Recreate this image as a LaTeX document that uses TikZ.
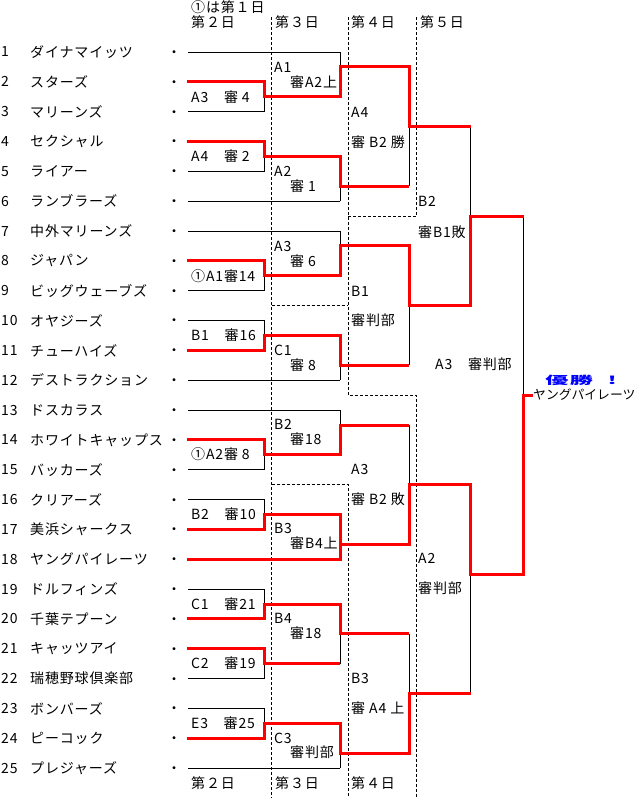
\documentclass[tikz,border=0pt]{standalone}
\usepackage{fontspec}
\setmainfont{Noto Sans CJK JP}[LetterSpace=6]
\definecolor{wred}{RGB}{255,0,0}
\definecolor{wblue}{RGB}{0,0,255}
\newcommand\rowY[1]{{52+29.84*(#1-1)}}
\def\XA{188}\def\XB{264.5}\def\XC{340.3}\def\XD{409}\def\XE{470.7}\def\XF{523.7}\def\XG{533}
\def\DA{271.7}\def\DB{348.3}\def\DC{416.7}
\begin{document}
\begin{tikzpicture}[x=1pt,y=-1pt,
  every node/.style={inner sep=0pt,font=\fontsize{14}{16}\selectfont},
  lbl/.style={anchor=west},
  bl/.style={line width=1pt,black},
  rd/.style={line width=3pt,wred},
  dsh/.style={line width=0.8pt,black,dash pattern=on 3pt off 2pt}]
\useasboundingbox[fill=white] (0,0) rectangle (637,798);

% dashed day separators
\draw[dsh] (\DA,17) -- (\DA,798);
\draw[dsh] (\DB,17) -- (\DB,\rowY{12.5}) -- (\DC,\rowY{12.5}) -- (\DC,798);
\draw[dsh] (\DC,17) -- (\DC,\rowY{6.5}) -- (\DB,\rowY{6.5});
\draw[dsh] (\DA,\rowY{9.5}) -- (\DB,\rowY{9.5});
\draw[dsh] (\DA,\rowY{15.5}) -- (\DB,\rowY{15.5}) -- (\DB,798);

% headers
\node[lbl] (h1) at (191,7) {①は第１日};
\node[lbl] (h2) at (191,22) {第２日};
\node[lbl] (h3) at (275,22) {第３日};
\node[lbl] (h4) at (351,22) {第４日};
\node[lbl] (h5) at (420,22) {第５日};
\node[lbl] (f2) at (191,783) {第２日};
\node[lbl] (f3) at (275,783) {第３日};
\node[lbl] (f4) at (351,783) {第４日};

% teams
\foreach \i/\nm in {1/ダイナマイッツ,2/スターズ,3/マリーンズ,4/セクシャル,5/ライアー,
  6/ランブラーズ,7/中外マリーンズ,8/ジャパン,9/ビッグウェーブズ,10/オヤジーズ,
  11/チューハイズ,12/デストラクション,13/ドスカラス,14/ホワイトキャップス,15/バッカーズ,
  16/クリアーズ,17/美浜シャークス,18/ヤングパイレーツ,19/ドルフィンズ,20/千葉テプーン,
  21/キャッツアイ,22/瑞穂野球倶楽部,23/ボンバーズ,24/ピーコック,25/プレジャーズ}{
  \node[lbl] (num\i) at (1,\rowY{\i}) {\i};
  \node[lbl] (tm\i) at (30,\rowY{\i}) {\nm};
  \node[yshift=-2pt] (dot\i) at (174,\rowY{\i}) {・};
}

% black bracket lines
\foreach \r in {1,6,7,12,13,18,25} \draw[bl] (\XA,\rowY{\r}) -- (\XC,\rowY{\r});
\foreach \a/\b in {2/3,4/5,8/9,10/11,14/15,16/17,19/20,21/22,23/24}
  \draw[bl] (\XA,\rowY{\a}) -- (\XB,\rowY{\a}) -- (\XB,\rowY{\b}) -- (\XA,\rowY{\b});
\foreach \a/\b in {1/2.5,4.5/6,7/8.5,10.5/12,13/14.5,16.5/18,19.5/21.5,23.5/25}
  \draw[bl] (\XC,\rowY{\a}) -- (\XC,\rowY{\b});
\foreach \a/\b in {1.5/5.5,7.5/11.5,13.5/17.5,20.5/24.5}
  \draw[bl] (\XD,\rowY{\a}) -- (\XD,\rowY{\b});
\foreach \a/\b in {3.5/9.5,15.5/22.5}
  \draw[bl] (\XE,\rowY{\a}) -- (\XE,\rowY{\b});
\draw[bl] (\XF,\rowY{6.5}) -- (\XF,\rowY{18.5});

% red winner paths
\draw[rd] (187,\rowY{2}) -| (\XB,\rowY{2.5}) -- (\XC,\rowY{2.5}) |- (\XD,\rowY{1.5}) |- (\XE,\rowY{3.5});
\draw[rd] (187,\rowY{4}) -| (\XB,\rowY{4.5}) -- (\XC,\rowY{4.5}) |- (\XD,\rowY{5.5});
\draw[rd] (187,\rowY{8}) -| (\XB,\rowY{8.5}) -- (\XC,\rowY{8.5}) |- (\XD,\rowY{7.5}) |- (\XE,\rowY{9.5}) |- (\XF,\rowY{6.5});
\draw[rd] (187,\rowY{11}) -| (\XB,\rowY{10.5}) -- (\XC,\rowY{10.5}) |- (\XD,\rowY{11.5});
\draw[rd] (187,\rowY{14}) -| (\XB,\rowY{14.5}) -- (\XC,\rowY{14.5}) |- (\XD,\rowY{13.5});
\draw[rd] (187,\rowY{17}) -| (\XB,\rowY{16.5}) -- (\XC,\rowY{16.5}) -- (\XC,\rowY{17.5});
\draw[rd] (187,\rowY{18}) -- (\XC,\rowY{18}) |- (\XD,\rowY{17.5}) |- (\XE,\rowY{15.5}) |- (\XF,\rowY{18.5}) |- (\XG,\rowY{12.5});
\draw[rd] (187,\rowY{20}) -| (\XB,\rowY{19.5}) -- (\XC,\rowY{19.5}) |- (\XD,\rowY{20.5});
\draw[rd] (187,\rowY{21}) -| (\XB,\rowY{21.5}) -- (\XC,\rowY{21.5});
\draw[rd] (187,\rowY{24}) -| (\XB,\rowY{23.5}) -- (\XC,\rowY{23.5}) |- (\XD,\rowY{24.5}) |- (\XE,\rowY{22.5});

% day 2 labels
\node[lbl] (m1) at (191,97) {A3　審 4};
\node[lbl] (m2) at (191,156.5) {A4　審 2};
\node[lbl] (m3) at (191,276) {①A1審14};
\node[lbl] (m4) at (191,335.5) {B1　審16};
\node[lbl] (m5) at (191,454.5) {①A2審 8};
\node[lbl] (m6) at (191,514.5) {B2　審10};
\node[lbl] (m7) at (191,604) {C1　審21};
\node[lbl] (m8) at (191,663.5) {C2　審19};
\node[lbl] (m9) at (191,723.5) {E3　審25};

% day 3 labels
\node[lbl] (c1) at (274,67) {A1};   \node[lbl] (c1r) at (290,82) {審A2上};
\node[lbl] (c2) at (274,171) {A2};  \node[lbl] (c2r) at (290,186) {審 1};
\node[lbl] (c3) at (274,246) {A3};  \node[lbl] (c3r) at (290,261) {審 6};
\node[lbl] (c4) at (274,350) {C1};  \node[lbl] (c4r) at (290,365) {審 8};
\node[lbl] (c5) at (274,424) {B2};  \node[lbl] (c5r) at (290,439) {審18};
\node[lbl] (c6) at (274,528) {B3};  \node[lbl] (c6r) at (290,543) {審B4上};
\node[lbl] (c7) at (274,618) {B4};  \node[lbl] (c7r) at (290,633) {審18};
\node[lbl] (c8) at (274,738) {C3};  \node[lbl] (c8r) at (290,752) {審判部};

% day 4 labels
\node[lbl] (d1) at (351,112) {A4};  \node[lbl] (d1r) at (351,142) {審 B2 勝};
\node[lbl] (d2) at (351,291) {B1};  \node[lbl] (d2r) at (351,320) {審判部};
\node[lbl] (d3) at (351,469) {A3};  \node[lbl] (d3r) at (351,499) {審 B2 敗};
\node[lbl] (d4) at (351,678) {B3};  \node[lbl] (d4r) at (351,708) {審 A4 上};

% day 5 labels
\node[lbl] (e1) at (418,201) {B2};  \node[lbl] (e1r) at (418,232) {審B1敗};
\node[lbl] (e2) at (418,558) {A2};  \node[lbl] (e2r) at (418,588) {審判部};

% final
\node[lbl] (fin) at (435,364) {A3　審判部};
\node[lbl,xscale=2.1,text=wblue,font=\fontsize{11}{12}\selectfont\bfseries] (win) at (545,380) {優勝\hspace{7pt}!};
\node[lbl,font=\fontsize{12.8}{14}\selectfont\addfontfeature{LetterSpace=0}] (champ) at (533,395) {ヤングパイレーツ};
\end{tikzpicture}
\end{document}
